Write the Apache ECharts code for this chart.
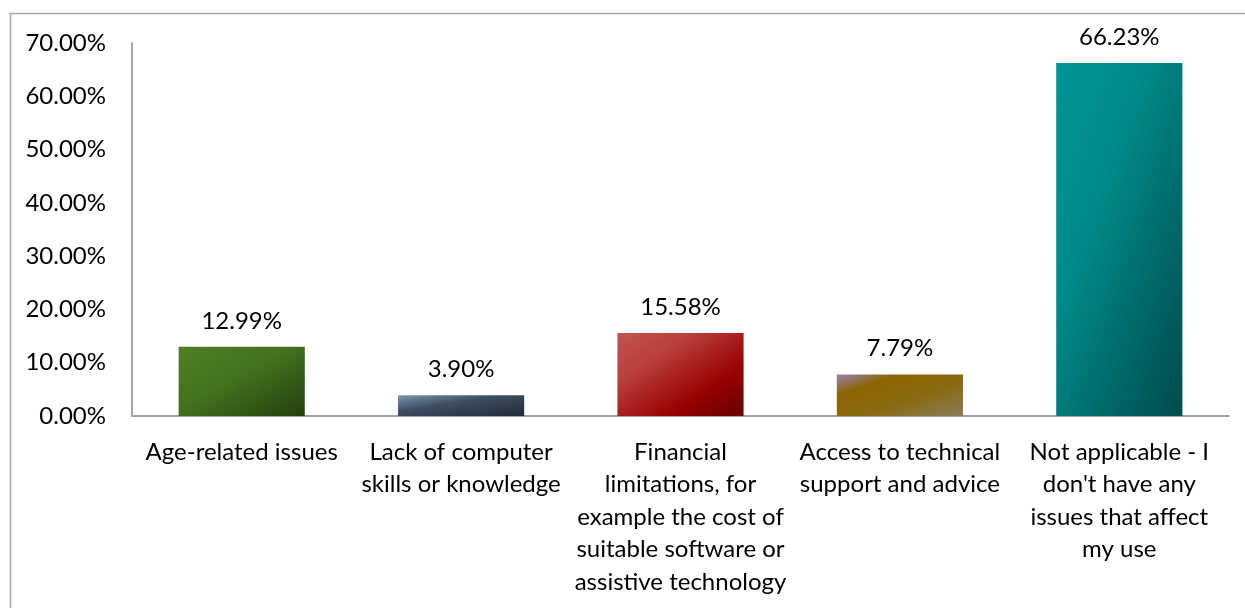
<!DOCTYPE html>
<html>
<head>
<meta charset="utf-8">
<script src="https://cdn.jsdelivr.net/npm/echarts@6/dist/echarts.min.js"></script>
<style>
  html, body { margin: 0; padding: 0; background: #fff; }
  #chart { width: 1245px; height: 608px; }
</style>
</head>
<body>
<div id="chart"></div>
<script>
// Barriers to use: share of respondents per issue
const categories = [
  'Age-related issues',
  'Lack of computer\nskills or knowledge',
  'Financial\nlimitations, for\nexample the cost of\nsuitable software or\nassistive technology',
  'Access to technical\nsupport and advice',
  'Not applicable - I\ndon\'t have any\nissues that affect\nmy use'
];
const shares = [12.99, 3.90, 15.58, 7.79, 66.23];
const yTicks = [0, 10, 20, 30, 40, 50, 60, 70];

// Shaded fills: light in the top-left corner, darkest in the bottom-right
const fills = [
  [[0, '#4e8024'], [0.45, '#43721e'], [1, '#243f0e']],
  [[0, '#8095b0'], [0.4, '#3e4d62'], [1, '#212b38']],
  [[0, '#c4534f'], [0.3, '#b83f3c'], [0.7, '#980000'], [1, '#650000']],
  [[0, '#9c80b6'], [0.25, '#8c6600'], [0.6, '#8a6a12'], [1, '#877c5c']],
  [[0, '#009494'], [0.35, '#008a8a'], [1, '#004a4a']]
];

const grid = { left: 132, right: 16, top: 43, bottom: 192 };
const W = 1245, H = 608;
const barFrac = 0.575;

// Gradient whose bands run parallel to the bar's anti-diagonal,
// so the shading scales with the bar's own proportions.
function gradient(stops, value) {
  const bw = barFrac * (W - grid.left - grid.right) / categories.length;
  const bh = value * (H - grid.top - grid.bottom) / yTicks[yTicks.length - 1];
  const d = bw * bw + bh * bh;
  const x2 = 2 * bh * bh / d;
  const y2 = 2 * bw * bw / d;
  return new echarts.graphic.LinearGradient(0, 0, x2, y2,
    stops.map(s => ({ offset: s[0], color: s[1] })));
}

const chart = echarts.init(document.getElementById('chart'), null, { renderer: 'canvas' });
const font = 'Lato, "Open Sans", sans-serif';

chart.setOption({
  animation: false,
  backgroundColor: '#ffffff',
  graphic: [{
    type: 'rect',
    shape: { x: 10.5, y: 13.5, width: 1300, height: 700 },
    style: { fill: 'none', stroke: '#a6a6a6', lineWidth: 1.5 },
    silent: true,
    z: -1
  }],
  grid: Object.assign({ containLabel: false }, grid),
  xAxis: {
    type: 'category',
    data: categories,
    axisLine: { show: true, lineStyle: { color: '#a0a0a0', width: 2 } },
    axisTick: { show: false },
    axisLabel: {
      interval: 0,
      color: '#000',
      fontFamily: font,
      fontSize: 24,
      lineHeight: 32.5,
      margin: 20
    }
  },
  yAxis: {
    type: 'value',
    min: yTicks[0],
    max: yTicks[yTicks.length - 1],
    interval: 10,
    splitLine: { show: false },
    axisLine: { show: true, lineStyle: { color: '#a6a6a6', width: 2 } },
    axisTick: { show: false },
    axisLabel: {
      color: '#000',
      fontFamily: font,
      fontSize: 24,
      margin: 26,
      formatter: v => v.toFixed(2) + '%'
    }
  },
  series: [{
    type: 'bar',
    barWidth: (barFrac * 100) + '%',
    data: shares.map((v, i) => ({ value: v, itemStyle: { color: gradient(fills[i], v) } })),
    label: {
      show: true,
      position: 'top',
      distance: 14,
      color: '#000',
      fontFamily: font,
      fontSize: 24,
      formatter: p => p.value.toFixed(2) + '%'
    }
  }]
});
</script>
</body>
</html>
